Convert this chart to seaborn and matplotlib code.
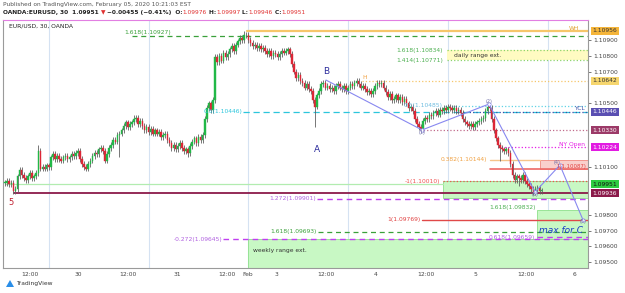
import numpy as np
import pandas as pd
import matplotlib
matplotlib.use("Agg")
import matplotlib.pyplot as plt
import seaborn as sns
from matplotlib.patches import Rectangle
import matplotlib.transforms as mtransforms

sns.set_style("white")
plt.rcParams['font.family'] = ['DejaVu Sans']

# ---------------- data ----------------
BASE = 1.09  # closes below are pips above 1.0900 (30-min EURUSD candles)
close_pips = [
    100, 101, 99, 100, 95, 96, 104, 108,
    105, 103, 102, 104, 106, 103, 104, 106,
    120, 109, 110, 109, 111, 110,
    116, 118, 115, 117, 115, 114, 116,
    117, 115, 116, 118, 117, 119, 120,
    115, 112, 110, 109, 112, 114, 117, 119, 118, 121,
    122, 120, 114, 118, 122, 124, 127, 126, 130, 131,
    133, 136, 138, 135, 137, 138, 140, 141, 137, 139,
    136, 133, 135, 132, 134, 131, 133, 131, 132, 129, 130, 131,
    127, 125, 122, 124, 121, 123, 125, 122, 120, 121, 119, 123,
    126, 128, 125, 129, 127, 130, 140, 147, 150, 146, 152,
    179, 176, 180, 177, 182, 179, 181, 184, 186, 183, 187,
    189, 191, 190, 193, 193,
    190, 188, 186, 187, 185, 186, 184, 185, 183,
    181, 183, 180, 182, 181, 179, 181, 183, 182, 183, 184, 181,
    175, 170, 166, 168, 164, 163, 160, 162, 159, 158,
    152, 148, 155,
    158, 162, 163, 160, 161, 159, 160, 158, 161, 162,
    160, 159, 161, 158, 160, 162, 161, 163, 164, 162, 160, 161,
    159, 157, 158, 156, 158, 161, 163, 162, 163, 160,
    157, 154, 156, 152, 153, 155, 152, 154, 151, 153,
    150, 147, 148, 145, 140, 137, 135, 134,
    139, 141, 140, 143, 142, 144, 145, 143,
    146, 145, 147, 146, 148, 147, 146, 147, 145, 146, 144,
    140, 138, 137, 136, 137, 135, 137, 138, 139, 140, 141,
    145, 148, 147, 140, 133, 128, 124, 122, 121, 120, 121, 119,
    112, 105, 102, 104, 103, 102, 105, 101, 99,
    98, 96, 94, 96, 97, 95, 95.1,
]
wick_hi = {115: 195.6, 101: 181, 153: 165.0, 232: 149.6, 16: 124, 62: 143}
wick_lo = {5: 93.4, 55: 116, 88: 116, 149: 135.1, 200: 133.0, 238: 114, 247: 98, 254: 93.4}

# x axis (bar index) ticks
xtick_pos = [12, 35, 59, 82.7, 106.7, 116.8, 130.3, 154.3, 178.4, 202.4, 226.4, 250.5, 274]
xtick_lab = ["12:00", "30", "12:00", "31", "12:00", "Feb", "3", "12:00", "4", "12:00", "5", "12:00", "6"]
session_breaks = [21, 69, 117, 165, 213, 261]

# Elliott projection path: B,(1),(2),(3),(4),(5)
wave_bars = [154.3, 200.5, 232.7, 254.8, 266.8, 277.9]
wave_prices = [1.10647, 1.10333, 1.10496, 1.09942, 1.10112, 1.09766]
wave_labels = ["", "(1)", "(2)", "(3)", "(4)", "(5)"]

# ---------------- candles ----------------
n = len(close_pips)
c = np.array(close_pips, dtype=float)
o = np.concatenate([[c[0]], c[:-1]])
pad = 1.8
h = np.maximum(o, c) + pad
l = np.minimum(o, c) - pad
for k, v in wick_hi.items():
    if k < n:
        h[k] = max(h[k], v)
for k, v in wick_lo.items():
    if k < n:
        l[k] = min(l[k], v)
df = pd.DataFrame({"bar": np.arange(n), "open": BASE + o / 1e4, "close": BASE + c / 1e4,
                   "high": BASE + h / 1e4, "low": BASE + l / 1e4})
df["up"] = df.close >= df.open

W, H = 625, 293
fig = plt.figure(figsize=(6.25, 2.93), dpi=100)
ax = fig.add_axes([3 / W, 1 - 268 / H, 585 / W, 248 / H])
XMIN, XMAX = -1, 280.3
YMIN, YMAX = 1.09464, 1.11025
ax.set_xlim(XMIN, XMAX)
ax.set_ylim(YMIN, YMAX)

# session break vertical lines
for b in session_breaks:
    ax.axvline(b, color="#d5e2f2", lw=0.8, zorder=0)

# ---------- zones (boxes) ----------
def box(x0, x1, y0, y1, fc, ec, lw=0.6, z=0.5):
    ax.add_patch(Rectangle((x0, y0), x1 - x0, y1 - y0, facecolor=fc, edgecolor=ec, lw=lw, zorder=z))

box(116.8, XMAX, YMIN, 1.09645, "#c8f8c4", "#8ee08a")          # weekly range ext
box(255.8, XMAX, 1.09645, 1.09832, "#c8f8c4", "#8ee08a")       # 1.618 box
box(210.6, XMAX, 1.09904, 1.10010, "#c8f8c4", "#8ee08a")       # -1 box
box(212.5, XMAX, 1.10771, 1.10834, "#fffbc2", "none")          # daily range
box(257.0, XMAX, 1.10087, 1.10144, "#f9d0cc", "#f08a80")       # red box

# ---------- horizontal levels ----------
def hl(y, x0, x1, color, ls="-", lw=0.8, z=1):
    ax.plot([x0, x1], [y, y], color=color, ls=ls, lw=lw, zorder=z)

def lab(x, y, s, color, ha="right", va="bottom", size=4.3, **kw):
    ax.text(x, y, s, color=color, ha=ha, va=va, fontsize=size, zorder=6, **kw)

hl(1.10956, 116.3, XMAX, "#f6c66a", lw=1.6)
lab(276, 1.10956, "WH", "#e0a030", va="bottom")
hl(1.10927, 61, XMAX, "#3aa03a", ls=(0, (4, 3)), lw=0.9)
lab(80, 1.10930, "1.618(1.10927)", "#3aa03a")
hl(1.10834, 212.5, XMAX, "#8bd36a", ls=":", lw=0.9)
hl(1.10771, 212.5, XMAX, "#8bd36a", ls=":", lw=0.9)
lab(210.6, 1.10834, "1.618(1.10834)", "#4caf50", va="center")
lab(210.6, 1.10771, "1.414(1.10771)", "#4caf50", va="center")
lab(216, 1.10802, "daily range ext.", "#333333", ha="left", va="center")
hl(1.10642, 171.6, XMAX, "#f6c66a", ls=":", lw=0.9)
lab(172, 1.10650, "H", "#f0a040", ha="left")
hl(1.10485, 211.5, XMAX, "#5fd3e6", ls=":", lw=0.9)
lab(210.6, 1.10485, "0.5(1.10485)", "#6fbde0", va="center")
hl(1.10446, 114.5, XMAX, "#2cc6dc", ls=(0, (5, 3)), lw=0.9)
lab(114, 1.10446, "0.5(1.10446)", "#2cc6dc", va="center")
hl(1.10448, 217, XMAX, "#3c4fa8", ls=":", lw=0.9)
lab(279, 1.10452, "YCL", "#3c4fa8")
hl(1.10330, 199.5, XMAX, "#c06a8a", ls=":", lw=0.9)
hl(1.10224, 237, XMAX, "#e61ee6", ls=":", lw=0.9)
lab(279, 1.10228, "NY Open", "#e61ee6")
hl(1.10144, 233, 257, "#f6c48a", lw=1.0)
lab(232, 1.10144, "0.382(1.10144)", "#f0a040", va="center")
hl(1.10087, 233, XMAX, "#ee6a66", lw=1.2)
lab(279.5, 1.10090, "1(1.10087)", "#e04040", size=3.9)
hl(1.10010, 210.6, XMAX, "#f05050", ls=":", lw=0.9)
lab(209, 1.10010, "-1(1.10010)", "#f05050", va="center")
hl(1.09990, 0, 210.6, "#b2ecb0", lw=0.9)
hl(1.09936, 4.3, XMAX, "#8b1a4a", lw=1.3)
lab(1.5, 1.09878, "5", "#c02030", ha="left", va="center", size=6)
hl(1.09901, 150, XMAX, "#c040f0", ls=(0, (4, 3)), lw=1.0)
lab(149.5, 1.09901, "1.272(1.09901)", "#b060e0", va="center")
lab(255, 1.09832, "1.618(1.09832)", "#4caf50", va="bottom")
hl(1.09769, 200.5, XMAX, "#e04848", lw=1.0)
lab(200, 1.09769, "1(1.09769)", "#e04040", va="center")
hl(1.09693, 150.5, XMAX, "#3aa03a", ls=(0, (4, 3)), lw=0.9)
lab(150, 1.09693, "1.618(1.09693)", "#3aa03a", va="center")
hl(1.09659, 255.8, XMAX, "#c040f0", ls=(0, (4, 3)), lw=1.0)
lab(255, 1.09659, "0.618(1.09659)", "#b060e0", va="center")
hl(1.09645, 104.8, XMAX, "#c040f0", ls=(0, (4, 3)), lw=1.0)
lab(104.5, 1.09645, "-0.272(1.09645)", "#b060e0", va="center")
lab(119, 1.09577, "weekly range ext.", "#333333", ha="left", va="center")
lab(256.7, 1.09703, "max for C", "#1a3cc8", ha="left", va="center", size=6.5, style="italic")
lab(150, 1.10207, "A", "#2c2c9c", ha="center", va="center", size=6.5)
lab(154.3, 1.10698, "B", "#2c2c9c", ha="center", va="center", size=6.5)

# ---------- candles ----------
wick_col = "#606060"
ax.vlines(df.bar, df.low, df.high, color=wick_col, lw=0.6, zorder=3)
body_lo = np.minimum(df.open, df.close)
body_h = np.maximum(np.abs(df.close - df.open), 0.00003)
cols = np.where(df.up, "#21b847", "#dc2636")
ax.bar(df.bar, body_h, bottom=body_lo, width=0.75, color=cols, edgecolor=cols, lw=0.3, zorder=4)

# ---------- wave projection ----------
wdf = pd.DataFrame({"bar": wave_bars, "price": wave_prices})
sns.lineplot(data=wdf, x="bar", y="price", ax=ax, sort=False, color="#8888f0", lw=0.8, zorder=5)
ax.scatter(wave_bars[1:], wave_prices[1:], s=6, facecolor="white", edgecolor="#8888f0", lw=0.5, zorder=5)
offs = [(0, 0), (0, -0.00013), (0, 0.00014), (0, -0.00013), (-1.5, 0.00019), (0, -0.00012)]
for bx, py, s, (dx, dy) in zip(wave_bars, wave_prices, wave_labels, offs):
    if s:
        lab(bx + dx, py + dy, s, "#7070a8", ha="center", va="center", size=3.6)

# ---------- axes styling ----------
ax.set_xlabel("")
ax.set_ylabel("")
ax.yaxis.tick_right()
yt = np.round(np.arange(1.0950, 1.11001, 0.001), 4)
hi_labels = [(1.10956, "#f5b53a", "#333333"), (1.10642, "#f6d66e", "#333333"),
             (1.10446, "#5a4fb2", "white"), (1.10330, "#9c3a68", "white"),
             (1.10224, "#e21be2", "white"), (1.09990, "#2ecc40", "#111111"),
             (1.09936, "#8b1a4a", "white")]
pxp = 248 / (YMAX - YMIN)
show = [t for t in yt if all(abs(t - v) * pxp > 8 for v, _, _ in hi_labels)]
ax.set_yticks(show)
ax.set_yticklabels([f"{t:.5f}" for t in show])
ax.tick_params(axis="y", labelsize=4.3, length=2, width=0.5, pad=2, colors="#444444")
ax.set_xticks(xtick_pos)
ax.set_xticklabels(xtick_lab)
ax.tick_params(axis="x", labelsize=4.3, length=0, pad=3, colors="#444444")
for s in ["left", "right", "bottom"]:
    ax.spines[s].set_color("#9a9a9a")
    ax.spines[s].set_linewidth(0.8)
ax.spines["top"].set_color("#e27fe2")
ax.spines["top"].set_linewidth(0.8)

trans = mtransforms.blended_transform_factory(ax.transAxes, ax.transData)
shown_vals = {1.09990: "1.09951"}
for v, bg, fg in hi_labels:
    txt = shown_vals.get(v, f"{v:.5f}")
    ax.text(1.008, v, txt, transform=trans, fontsize=4.3, color=fg, va="center", ha="left",
            bbox=dict(boxstyle="square,pad=0.25", fc=bg, ec="none"), zorder=10, clip_on=False)

ax.text(0.01, 0.985, "EUR/USD, 30, OANDA", transform=ax.transAxes, fontsize=4.3,
        color="#222222", va="top", ha="left")

# ---------- header ----------
fig.text(3 / W, 1 - 2 / H, "Published on TradingView.com, February 05, 2020 10:21:03 EST",
         fontsize=4.2, color="#555555", va="top", ha="left")
parts = [("OANDA:EURUSD, 30  1.09951 ", "#222222"), ("\u25bc", "#e03030"),
         (" \u22120.00455 (\u22120.41%)  O:", "#222222"), ("1.09976", "#e03030"),
         (" H:", "#222222"), ("1.09997", "#e03030"), (" L:", "#222222"),
         ("1.09946", "#e03030"), (" C:", "#222222"), ("1.09951", "#e03030")]
prev = fig.text(3 / W, 1 - 10 / H, parts[0][0], fontsize=4.2, color=parts[0][1],
                va="top", ha="left", fontweight="bold")
for s, col in parts[1:]:
    prev = ax.annotate(s, xy=(1, 0), xycoords=prev, xytext=(0, 0), textcoords="offset points",
                       fontsize=4.2, color=col, va="bottom", ha="left",
                       fontweight="bold" if col == "#222222" else "normal", annotation_clip=False)

# TradingView footer
fig.patches.append(plt.Polygon([[6 / W, 1 - 287 / H], [10 / W, 1 - 280 / H], [14 / W, 1 - 287 / H]],
                               closed=True, transform=fig.transFigure, fc="#2a8ee8", ec="none"))
fig.text(16 / W, 1 - 283.5 / H, "TradingView", fontsize=4.3, color="#333333", va="center", ha="left")

fig.savefig("out.png", dpi=100, facecolor="white")
